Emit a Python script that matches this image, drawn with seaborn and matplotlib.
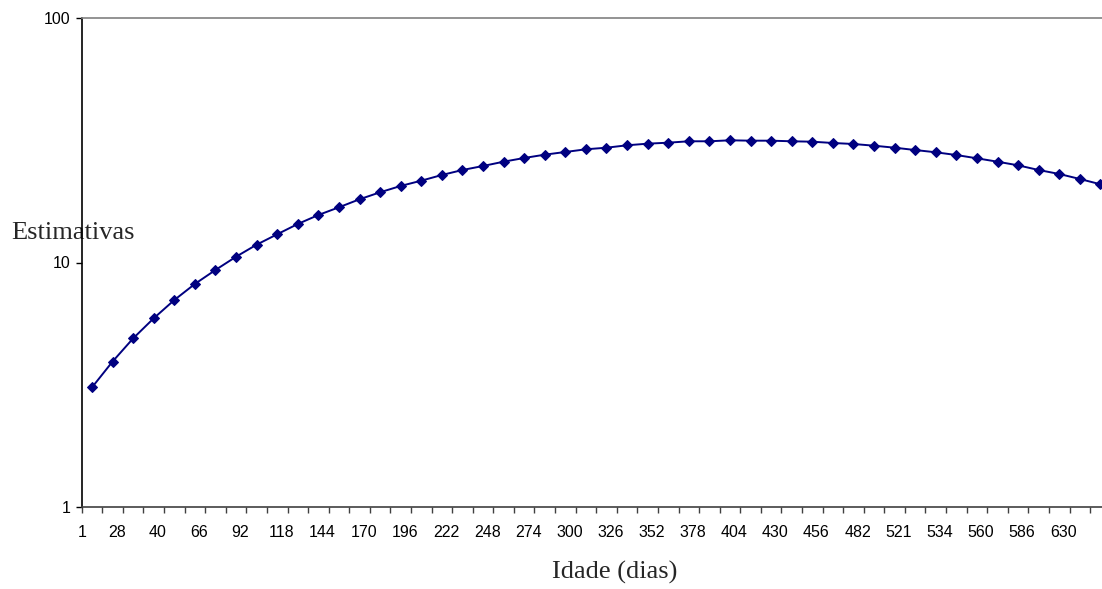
import numpy as np
import pandas as pd
import matplotlib
matplotlib.use("Agg")
import matplotlib.pyplot as plt
import seaborn as sns

# ---- data ----
tick_labels = ["1", "28", "40", "66", "92", "118", "144", "170", "196", "222",
               "248", "274", "300", "326", "352", "378", "404", "430", "456",
               "482", "521", "534", "560", "586", "630"]
estimativas = [3.08, 3.93, 4.89, 5.91, 7.02, 8.17, 9.32, 10.56, 11.83, 13.05,
               14.38, 15.65, 16.83, 18.15, 19.39, 20.58, 21.63, 22.82, 23.92, 24.84,
               25.87, 26.79, 27.64, 28.35, 29.08, 29.52, 30.20, 30.66, 30.95, 31.36,
               31.36, 31.65, 31.54, 31.54, 31.36, 31.24, 30.86, 30.57, 30.08, 29.52,
               28.88, 28.27, 27.55, 26.71, 25.87, 25.00, 23.92, 23.04, 21.98, 20.91]
y_ticks = [1, 10, 100]
y_title = "Estimativas"
x_title = "Idade (dias)"

df = pd.DataFrame({"pos": np.arange(len(estimativas)), "val": estimativas})

sns.set_style("white")
plt.rcParams["font.family"] = ["Liberation Sans", "DejaVu Sans"]

W, H = 1102, 589
fig = plt.figure(figsize=(W / 100, H / 100), dpi=100)
n = len(estimativas)
cat_w = 20.58
ax_left, ax_top, ax_bottom = 81.7, 18.3, 506.7
ax_w = n * cat_w
ax = fig.add_axes([ax_left / W, (H - ax_bottom) / H, ax_w / W, (ax_bottom - ax_top) / H])

sns.lineplot(data=df, x="pos", y="val", ax=ax, color="#000080", linewidth=1.4,
             marker="D", markersize=5.6, markeredgecolor="#000080",
             markerfacecolor="#000080")

ax.set_yscale("log")
ax.set_yticks(y_ticks)
ax.set_yticklabels([str(v) for v in y_ticks])
ax.yaxis.set_minor_locator(matplotlib.ticker.NullLocator())

# major x ticks at category edges (no labels), labels on minor ticks
ax.xaxis.remove_overlapping_locs = False
ax.set_xticks(np.arange(n + 1) - 0.5)
ax.set_xticklabels([""] * (n + 1))
label_pos = [max(2 * k - 0.8, -0.49) for k in range(len(tick_labels))]
ax.set_xticks(label_pos, minor=True)
ax.set_xticklabels(tick_labels, minor=True)
ax.set_xlim(-0.5, n - 0.5)
ax.set_ylim(1, 100)

ax.tick_params(axis="x", which="major", direction="out", length=4, width=1,
               color="#404040", bottom=True)
ax.tick_params(axis="x", which="minor", length=0, pad=13.5, labelsize=11.5,
               labelcolor="black", bottom=True)
ax.tick_params(axis="y", which="major", direction="out", length=4, width=1,
               color="black", pad=4, labelsize=11.5, labelcolor="black", left=True)

ax.spines["left"].set_color("black")
ax.spines["left"].set_linewidth(1.2)
ax.spines["bottom"].set_color("#404040")
ax.spines["bottom"].set_linewidth(1.2)
ax.spines["top"].set_color("#808080")
ax.spines["top"].set_linewidth(1.2)
ax.spines["right"].set_visible(False)
ax.grid(False)

ax.set_ylabel(y_title, rotation=0, fontsize=19, family=["Liberation Serif", "DejaVu Serif"],
              ha="left", va="baseline")
ax.yaxis.set_label_coords((11.7 - ax_left) / ax_w, (ax_bottom - 239) / (ax_bottom - ax_top))
ax.set_xlabel(x_title, fontsize=19, family=["Liberation Serif", "DejaVu Serif"],
              ha="center", va="baseline")
ax.xaxis.set_label_coords((615 - ax_left) / ax_w, (ax_bottom - 579) / (ax_bottom - ax_top))

fig.savefig("out.png", dpi=100, facecolor="white")
